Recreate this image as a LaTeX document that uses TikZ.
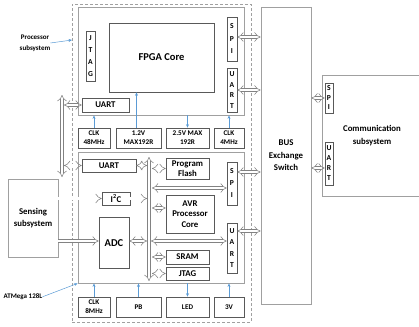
\documentclass[tikz,border=0pt]{standalone}
\usepackage{fontspec}
\setmainfont{Carlito}
\usepackage{tikz}
\usetikzlibrary{arrows.meta,positioning}
\definecolor{boxgray}{RGB}{89,89,89}
\definecolor{biggray}{RGB}{160,160,160}
\definecolor{busgray}{RGB}{130,130,130}
\definecolor{sigblue}{RGB}{91,155,213}

\begin{document}
\begin{tikzpicture}[x=1pt, y=-1pt,
    blk/.style={draw=boxgray, line width=0.6pt, inner sep=0pt, align=center, font=\fontsize{8.8}{10.5}\selectfont\bfseries},
    small/.style={blk, font=\fontsize{7.2}{9}\selectfont\bfseries},
    vert/.style={blk, font=\fontsize{7.6}{#1}\selectfont\bfseries},
    big/.style={draw=biggray, line width=0.8pt, inner sep=0pt, align=center, font=\fontsize{8.8}{12.5}\selectfont\bfseries},
    lbl/.style={inner sep=0pt, align=center, font=\fontsize{7}{11}\selectfont\bfseries},
    bus/.style={draw=busgray, line width=0.55pt, double=white, double distance=2.8pt, {Implies}-{Implies}},
    onebus/.style={bus, -{Implies}},
    sig/.style={draw=sigblue, line width=0.6pt, -{Stealth[length=3.5pt,width=3pt]}}]
    \useasboundingbox (0,0) rectangle (419,326);

    % processor subsystem frame
    \node[draw=biggray, line width=0.8pt, dash pattern=on 3pt off 2pt, minimum width=179pt, minimum height=318pt] (atm) at (161.5,163) {};

    % FPGA part
    \node[big, minimum width=166pt, minimum height=108pt] (fpga) at (161,61) {};
    \node[vert=12, minimum width=9pt, minimum height=50pt] (jtagf) at (90.5,56) {J\\T\\A\\G};
    \node[blk, font=\fontsize{10.5}{11}\selectfont\bfseries, minimum width=105pt, minimum height=69pt] (core) at (161.5,57.5) {FPGA Core};
    \node[vert=12.5, minimum width=10pt, minimum height=44pt] (spif) at (232,39) {S\\P\\I};
    \node[vert=10.5, minimum width=10pt, minimum height=44pt] (uartfv) at (232,90) {U\\A\\R\\T};
    \node[blk, minimum width=47pt, minimum height=14pt] (uartf) at (105.5,105) {UART};

    \node[small, minimum width=32pt, minimum height=20pt] (clk48) at (94,138) {CLK\\48MHz};
    \node[small, minimum width=45pt, minimum height=20pt] (v12) at (138.5,138) {1.2V\\MAX192R};
    \node[small, minimum width=43pt, minimum height=20pt] (v25) at (187.5,138) {2.5V MAX\\192R};
    \node[small, minimum width=30pt, minimum height=20pt] (clk4) at (229,138) {CLK\\4MHz};

    % AVR part
    \node[big, minimum width=166pt, minimum height=131pt] (avr) at (161,217.5) {};
    \node[blk, minimum width=54pt, minimum height=13pt] (uarta) at (109,165.5) {UART};
    \node[blk, minimum width=43pt, minimum height=21pt] (flash) at (187.5,168.5) {Program\\Flash};
    \node[vert=12, minimum width=10pt, minimum height=43pt] (spia) at (232,183.5) {S\\P\\I};
    \node[blk, minimum width=28pt, minimum height=13pt] (i2c) at (116,198.5) {I\textsuperscript{2}C};
    \node[blk, font=\fontsize{10.5}{11}\selectfont\bfseries, minimum width=30pt, minimum height=51pt] (adc) at (114,243) {ADC};
    \node[blk, minimum width=48pt, minimum height=38pt] (avrcore) at (190,214) {AVR\\Processor\\Core};
    \node[blk, minimum width=43pt, minimum height=14pt] (sram) at (187.5,257) {SRAM};
    \node[blk, minimum width=43pt, minimum height=13pt] (jtaga) at (187.5,273.5) {JTAG};
    \node[vert=11.5, minimum width=10pt, minimum height=50pt] (uartav) at (232,248) {U\\A\\R\\T};

    \node[small, minimum width=32pt, minimum height=20pt] (clk8) at (94,307) {CLK\\8MHz};
    \node[small, minimum width=45pt, minimum height=20pt] (pb) at (138.5,307) {PB};
    \node[small, minimum width=43pt, minimum height=20pt] (led) at (187.5,307) {LED};
    \node[small, minimum width=30pt, minimum height=20pt] (v3) at (229,307) {3V};

    % outside blocks
    \node[big, font=\fontsize{8.8}{11.5}\selectfont\bfseries, minimum width=50pt, minimum height=78pt] (sense) at (33,218) {Sensing\\subsystem};
    \node[big, minimum width=50pt, minimum height=297pt] (switch) at (286,155.5) {BUS\\Exchange\\Switch};
    \node[big, font=\fontsize{8.8}{13.5}\selectfont\bfseries, minimum width=100pt, minimum height=121pt] (comm) at (372,135.5) {Communication\\subsystem};
    \node[vert=9.5, minimum width=8pt, minimum height=30pt] (spic) at (329,98) {S\\P\\I};
    \node[vert=10, minimum width=8pt, minimum height=43pt] (uartc) at (329,163.5) {U\\A\\R\\T};

    \node[lbl] (proclbl) at (35,43) {Processor\\subsystem};
    \node[lbl] (atmlbl) at (23,297) {ATMega 128L};
    \coordinate (proctip) at (72,40);

    % internal buses
    \coordinate (lbtop) at (62,95);
    \coordinate (lbbot) at (62,177);
    \coordinate (abtop) at (149,157);
    \coordinate (abbot) at (149,281);
    \coordinate (spirow) at (0,188);
    \coordinate (uartrow) at (0,241);

    \draw[bus] (lbtop) -- (lbbot);
    \draw[bus] ([xshift=2pt]lbtop |- uartf.west) -- (uartf.west);
    \draw[bus] ([xshift=2pt]lbtop |- uarta.west) -- (uarta.west);

    \draw[bus] (abtop) -- (abbot);
    \draw[bus] (uarta.east) -- ([xshift=-2pt]abtop |- uarta.east);
    \draw[onebus] (i2c.east) -- ([xshift=-2pt]abtop |- i2c.east);
    \draw[bus] (adc.east |- uartrow) -- ([xshift=-2pt]abtop |- uartrow);
    \draw[bus] ([xshift=3pt]abtop |- flash.west) -- (flash.west);
    \draw[bus] ([xshift=3pt]abtop |- spirow) -- (spia.west |- spirow);
    \draw[bus] ([xshift=3pt,yshift=6pt]abtop |- avrcore.west) -- ([yshift=6pt]avrcore.west);
    \draw[bus] ([xshift=2pt]abtop |- uartrow) -- (uartav.west |- uartrow);
    \draw[bus] ([xshift=3pt]abtop |- sram.west) -- (sram.west);
    \draw[bus] ([xshift=3pt]abtop |- jtaga.west) -- (jtaga.west);

    \draw[onebus] (sense.east |- i2c) -- (i2c.west);
    \draw[onebus] (sense.east |- uartrow) -- (adc.west |- uartrow);

    % links to the switch
    \draw[bus] ([yshift=2pt]spif.east) -- ([yshift=2pt]spif.east -| switch.west);
    \draw[bus] (uartfv.east) -- (uartfv.east -| switch.west);
    \draw[bus] ([yshift=11.5pt]spia.east) -- ([yshift=11.5pt]spia.east -| switch.west);
    \draw[bus] ([yshift=17pt]uartav.east) -- ([yshift=17pt]uartav.east -| switch.west);
    \draw[bus] (switch.east |- spic) -- (spic.west);
    \draw[bus] ([yshift=-4.5pt]switch.east |- uartc) -- ([yshift=-4.5pt]uartc.west);

    % supply and clock lines
    \draw[sig] (clk48.north) -- (clk48.north |- fpga.south);
    \draw[sig] ([xshift=-2pt]v12.north) -- ([xshift=-2pt]v12.north |- core.south);
    \draw[sig] (fpga.south -| v25) -- (v25.north);
    \draw[sig] (clk4.north) -- (clk4.north |- fpga.south);
    \draw[sig] (clk8.north) -- (clk8.north |- avr.south);
    \draw[sig] (pb.north) -- (pb.north |- avr.south);
    \draw[sig] (avr.south -| led) -- (led.north);
    \draw[sig] (v3.north) -- (v3.north |- avr.south);

    \draw[sig, line width=0.5pt] (proclbl.east) -- (proctip);
    \draw[sig, line width=0.5pt] ([yshift=-3pt]atmlbl.north east) -- (avr.south west);
\end{tikzpicture}
\end{document}
